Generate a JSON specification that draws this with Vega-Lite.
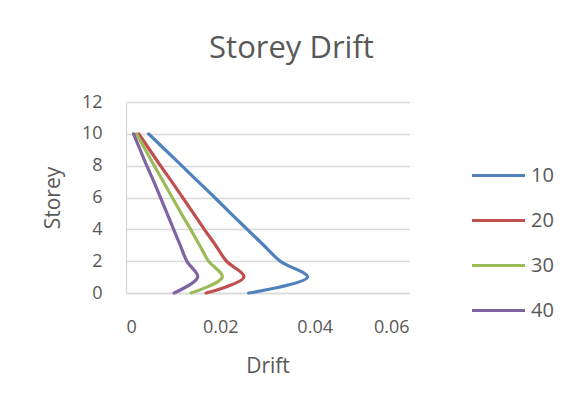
{
  "$schema": "https://vega.github.io/schema/vega-lite/v6.json",
  "width": 283,
  "height": 191,
  "autosize": {"type": "none"},
  "padding": {"left": 126, "top": 102, "right": 165, "bottom": 117},
  "background": "white",
  "title": {
    "text": "Storey Drift",
    "fontSize": 31,
    "font": "Open Sans",
    "fontWeight": "normal",
    "color": "#595959",
    "anchor": "middle",
    "frame": "group",
    "dx": 24,
    "offset": 28
  },
  "data": {
    "values": [
      {"series": "10", "storey": 0, "drift": 0.0260},
      {"series": "10", "storey": 1, "drift": 0.0385},
      {"series": "10", "storey": 2, "drift": 0.0327},
      {"series": "10", "storey": 3, "drift": 0.0292},
      {"series": "10", "storey": 4, "drift": 0.0257},
      {"series": "10", "storey": 5, "drift": 0.0222},
      {"series": "10", "storey": 6, "drift": 0.0188},
      {"series": "10", "storey": 7, "drift": 0.0153},
      {"series": "10", "storey": 8, "drift": 0.0118},
      {"series": "10", "storey": 9, "drift": 0.0083},
      {"series": "10", "storey": 10, "drift": 0.0048},
      {"series": "20", "storey": 0, "drift": 0.0170},
      {"series": "20", "storey": 1, "drift": 0.0250},
      {"series": "20", "storey": 2, "drift": 0.0213},
      {"series": "20", "storey": 3, "drift": 0.0190},
      {"series": "20", "storey": 4, "drift": 0.0166},
      {"series": "20", "storey": 5, "drift": 0.0143},
      {"series": "20", "storey": 6, "drift": 0.0120},
      {"series": "20", "storey": 7, "drift": 0.0097},
      {"series": "20", "storey": 8, "drift": 0.0073},
      {"series": "20", "storey": 9, "drift": 0.0050},
      {"series": "20", "storey": 10, "drift": 0.0027},
      {"series": "30", "storey": 0, "drift": 0.0138},
      {"series": "30", "storey": 1, "drift": 0.0204},
      {"series": "30", "storey": 2, "drift": 0.0175},
      {"series": "30", "storey": 3, "drift": 0.0156},
      {"series": "30", "storey": 4, "drift": 0.0137},
      {"series": "30", "storey": 5, "drift": 0.0117},
      {"series": "30", "storey": 6, "drift": 0.0098},
      {"series": "30", "storey": 7, "drift": 0.0079},
      {"series": "30", "storey": 8, "drift": 0.0060},
      {"series": "30", "storey": 9, "drift": 0.0041},
      {"series": "30", "storey": 10, "drift": 0.0022},
      {"series": "40", "storey": 0, "drift": 0.0102},
      {"series": "40", "storey": 1, "drift": 0.0152},
      {"series": "40", "storey": 2, "drift": 0.0129},
      {"series": "40", "storey": 3, "drift": 0.0115},
      {"series": "40", "storey": 4, "drift": 0.0101},
      {"series": "40", "storey": 5, "drift": 0.0087},
      {"series": "40", "storey": 6, "drift": 0.0073},
      {"series": "40", "storey": 7, "drift": 0.0059},
      {"series": "40", "storey": 8, "drift": 0.0044},
      {"series": "40", "storey": 9, "drift": 0.0030},
      {"series": "40", "storey": 10, "drift": 0.0016}
    ]
  },
  "mark": {"type": "line", "interpolate": "catmull-rom", "strokeWidth": 3.2, "strokeCap": "round", "strokeJoin": "round"},
  "encoding": {
    "x": {
      "field": "drift", "type": "quantitative", "title": "Drift",
      "scale": {"domain": [0, 0.06], "nice": false},
      "axis": {"values": [0, 0.02, 0.04, 0.06], "format": ".2~f", "grid": false, "ticks": false, "labelPadding": 25, "titlePadding": 19, "domainColor": "#D9D9D9", "domainWidth": 1.3}
    },
    "y": {
      "field": "storey", "type": "quantitative", "title": "Storey",
      "scale": {"domain": [0, 12], "nice": false},
      "axis": {"values": [0, 2, 4, 6, 8, 10, 12], "grid": true, "gridColor": "#D9D9D9", "gridWidth": 1.3, "ticks": false, "labelPadding": 24, "titlePadding": 18, "domainColor": "#D9D9D9", "domainWidth": 1.3}
    },
    "color": {
      "field": "series", "type": "nominal", "title": null,
      "scale": {"domain": ["10", "20", "30", "40"], "range": ["#4F81BD", "#C0504D", "#9BBB59", "#8064A2"]},
      "legend": {
        "orient": "none", "legendX": 344, "legendY": 45,
        "symbolType": "stroke", "symbolSize": 2809, "symbolStrokeWidth": 3.2,
        "labelFontSize": 20, "labelFont": "Open Sans", "labelColor": "#595959", "labelOffset": 4,
        "rowPadding": 6
      }
    },
    "order": {"field": "storey", "type": "quantitative"}
  },
  "config": {
    "view": {"stroke": null},
    "axis": {
      "labelFont": "Open Sans", "labelFontSize": 18, "labelColor": "#595959",
      "titleFont": "Open Sans", "titleFontSize": 21, "titleFontWeight": "normal", "titleColor": "#595959"
    }
  }
}
